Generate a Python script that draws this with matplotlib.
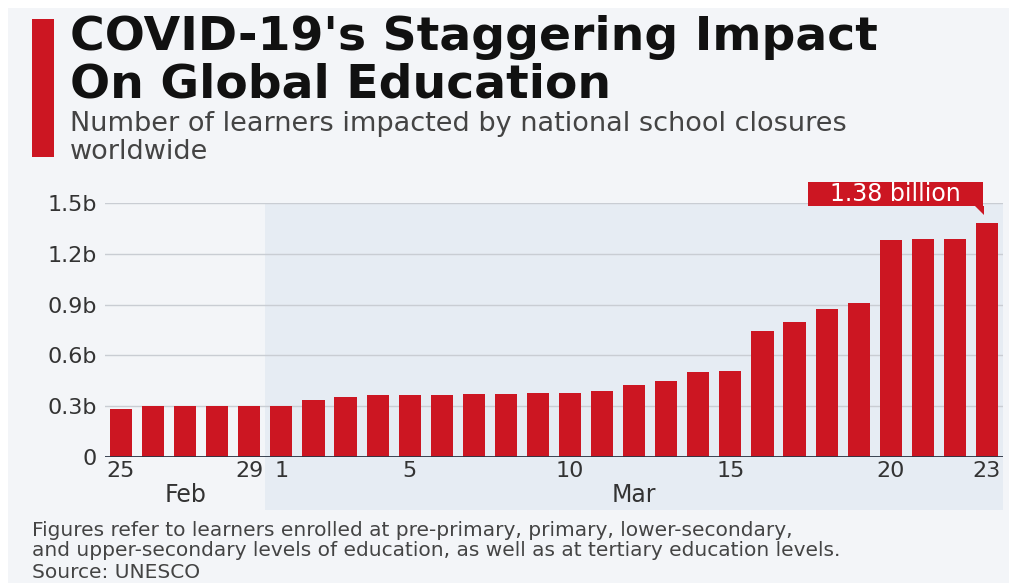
import numpy as np
import matplotlib
matplotlib.use("Agg")
import matplotlib.pyplot as plt
from matplotlib.patches import Rectangle, Polygon
import matplotlib.transforms as mtransforms

# learners impacted (billions), Feb 25 - Mar 23 2020
days = [25, 26, 27, 28, 29] + list(range(1, 24))
months = ["Feb"] * 5 + ["Mar"] * 23
learners = [0.282, 0.30, 0.30, 0.30, 0.30,
            0.30, 0.339, 0.354, 0.366, 0.366, 0.366, 0.374, 0.374,
            0.38, 0.38, 0.39, 0.427, 0.447, 0.504, 0.506, 0.744,
            0.797, 0.874, 0.912, 1.28, 1.288, 1.288, 1.38]
shown_days = [25, 29, 1, 5, 10, 15, 20, 23]
yticks = [0, 0.3, 0.6, 0.9, 1.2, 1.5]
ytick_labels = ["0", "0.3b", "0.6b", "0.9b", "1.2b", "1.5b"]

red = "#cc1622"
bg = "#f3f5f8"
band = "#e6ecf3"
W, H = 1009, 583

plt.rcParams["font.family"] = ["DejaVu Sans"]
fig = plt.figure(figsize=(W / 100, H / 100), dpi=100)
fig.patch.set_facecolor("white")
fig.patches.append(Rectangle((8 / W, 0), 1 - 8 / W, 1 - 8 / H, transform=fig.transFigure,
                             facecolor=bg, edgecolor="none", zorder=-10))
# red marker beside title
fig.patches.append(Rectangle((32 / W, 1 - 157 / H), 22 / W, 138 / H, transform=fig.transFigure,
                             facecolor=red, edgecolor="none"))

fig.text(70 / W, 1 - 50 / H, "COVID-19's Staggering Impact", fontsize=34, fontweight="bold",
         color="#111111", va="baseline", ha="left")
fig.text(70 / W, 1 - 97 / H, "On Global Education", fontsize=34, fontweight="bold",
         color="#111111", va="baseline", ha="left")
fig.text(70 / W, 1 - 131 / H, "Number of learners impacted by national school closures",
         fontsize=19.5, color="#444444", va="baseline", ha="left")
fig.text(70 / W, 1 - 159 / H, "worldwide", fontsize=19.5, color="#444444", va="baseline", ha="left")

ax = fig.add_axes([105 / W, 1 - 457 / H, (1003 - 105) / W, (457 - 203) / H])
ax.set_facecolor("none")
x = np.arange(len(days))
ax.bar(x, learners, width=0.69, color=red, zorder=3)
ax.set_xlim(-0.5, len(days) - 0.5)
ax.set_ylim(0, 1.5)

# shaded March band
mar_start = months.index("Mar") - 0.5
ax.add_patch(Rectangle((mar_start, -0.313), len(days) - 0.5 - mar_start, 1.5 + 0.313,
                       facecolor=band, edgecolor="none", zorder=0, clip_on=False))

for y in yticks[1:]:
    ax.axhline(y, color="#c9cdd3", lw=1, zorder=1)
ax.axhline(0, color="#2b3545", lw=1.3, zorder=4)

for s in ax.spines.values():
    s.set_visible(False)
ax.set_yticks(yticks)
ax.set_yticklabels(ytick_labels)
ax.tick_params(axis="y", length=0, pad=6, labelsize=16, labelcolor="#333333")
tick_pos = [i for i, d in enumerate(days) if d in shown_days]
ax.set_xticks(tick_pos)
ax.set_xticklabels([str(days[i]) for i in tick_pos])
ax.tick_params(axis="x", length=0, pad=3, labelsize=16, labelcolor="#333333")

# month labels under the ticks
for m in ["Feb", "Mar"]:
    idx = [i for i, mm in enumerate(months) if mm == m]
    ax.text((idx[0] + idx[-1]) / 2, -0.225, m, ha="center", va="center", fontsize=17,
            color="#333333")

# callout on last bar, laid out in inches from the bar top
xl, yl = x[-1], learners[-1]
anchor = fig.dpi_scale_trans + mtransforms.ScaledTranslation(xl, yl, ax.transData)
fig.patches.append(Rectangle((-1.79, 0.17), 1.75, 0.24, transform=anchor,
                             facecolor=red, edgecolor="none", zorder=6))
fig.patches.append(Polygon([[-0.12, 0.175], [-0.03, 0.175], [-0.03, 0.08]], closed=True,
                           transform=anchor, facecolor=red, edgecolor="none", zorder=6))
fig.text(-0.915, 0.29, f"{yl:.2f} billion", transform=anchor, ha="center", va="center",
         fontsize=17, color="white", zorder=7)

foot1 = "Figures refer to learners enrolled at pre-primary, primary, lower-secondary,"
foot2 = "and upper-secondary levels of education, as well as at tertiary education levels."
fig.text(32 / W, 1 - 530 / H, foot1, fontsize=14.5, color="#444444", va="center")
fig.text(32 / W, 1 - 551 / H, foot2, fontsize=14.5, color="#444444", va="center")
fig.text(32 / W, 1 - 572 / H, "Source: UNESCO", fontsize=14.5, color="#444444", va="center")

fig.savefig("out.png", dpi=100, facecolor=fig.get_facecolor())
